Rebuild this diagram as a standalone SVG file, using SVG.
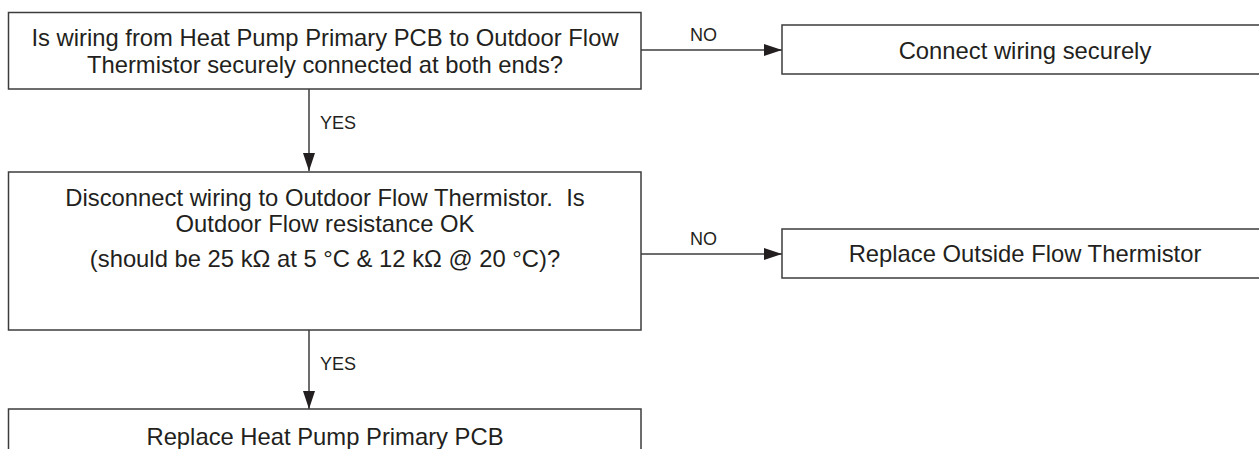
<svg xmlns="http://www.w3.org/2000/svg" width="1259" height="449" viewBox="0 0 1259 449">
<style>
.box{fill:#fff;stroke:#3c3c3c;stroke-width:1.5}
.t{font-family:"Liberation Sans",Arial,sans-serif;font-size:23.8px;fill:#231f20;text-anchor:middle}
.lbl{font-family:"Liberation Sans",Arial,sans-serif;font-size:18px;fill:#231f20}
.edge{stroke:#3c3c3c;stroke-width:1.5;fill:none;marker-end:url(#arr)}
</style>
<defs>
<marker id="arr" markerUnits="userSpaceOnUse" markerWidth="20" markerHeight="14" refX="18" refY="6" orient="auto">
<path d="M0,0 L18,6 L0,12 z" fill="#231f20"/>
</marker>
</defs>
<rect width="1259" height="449" fill="#fff"/>
<g id="connectors">
<line class="edge" x1="641" y1="50" x2="782" y2="50"/>
<text class="lbl" x="690" y="41">NO</text>
<line class="edge" x1="309" y1="89" x2="309" y2="171"/>
<text class="lbl" x="320" y="129">YES</text>
<line class="edge" x1="641" y1="254" x2="782" y2="254"/>
<text class="lbl" x="690" y="245">NO</text>
<line class="edge" x1="309" y1="330" x2="309" y2="409"/>
<text class="lbl" x="320" y="370">YES</text>
</g>
<g id="q1">
<rect class="box" x="8.5" y="12.5" width="632.5" height="76.5"/>
<text class="t" x="325" y="46">Is wiring from Heat Pump Primary PCB to Outdoor Flow</text>
<text class="t" x="325" y="73">Thermistor securely connected at both ends?</text>
</g>
<g id="a1">
<rect class="box" x="782" y="25" width="500" height="49"/>
<text class="t" x="1025" y="59">Connect wiring securely</text>
</g>
<g id="q2">
<rect class="box" x="8.5" y="172" width="632.5" height="158"/>
<text class="t" x="325" y="206" style="white-space:pre">Disconnect wiring to Outdoor Flow Thermistor.  Is</text>
<text class="t" x="325" y="232">Outdoor Flow resistance OK</text>
<text class="t" x="325" y="267">(should be 25 kΩ at 5 °C &amp; 12 kΩ @ 20 °C)?</text>
</g>
<g id="a2">
<rect class="box" x="782" y="229" width="500" height="49"/>
<text class="t" x="1025" y="262">Replace Outside Flow Thermistor</text>
</g>
<g id="a3">
<rect class="box" x="8.5" y="409" width="632.5" height="60"/>
<text class="t" x="325" y="445">Replace Heat Pump Primary PCB</text>
</g>
</svg>
